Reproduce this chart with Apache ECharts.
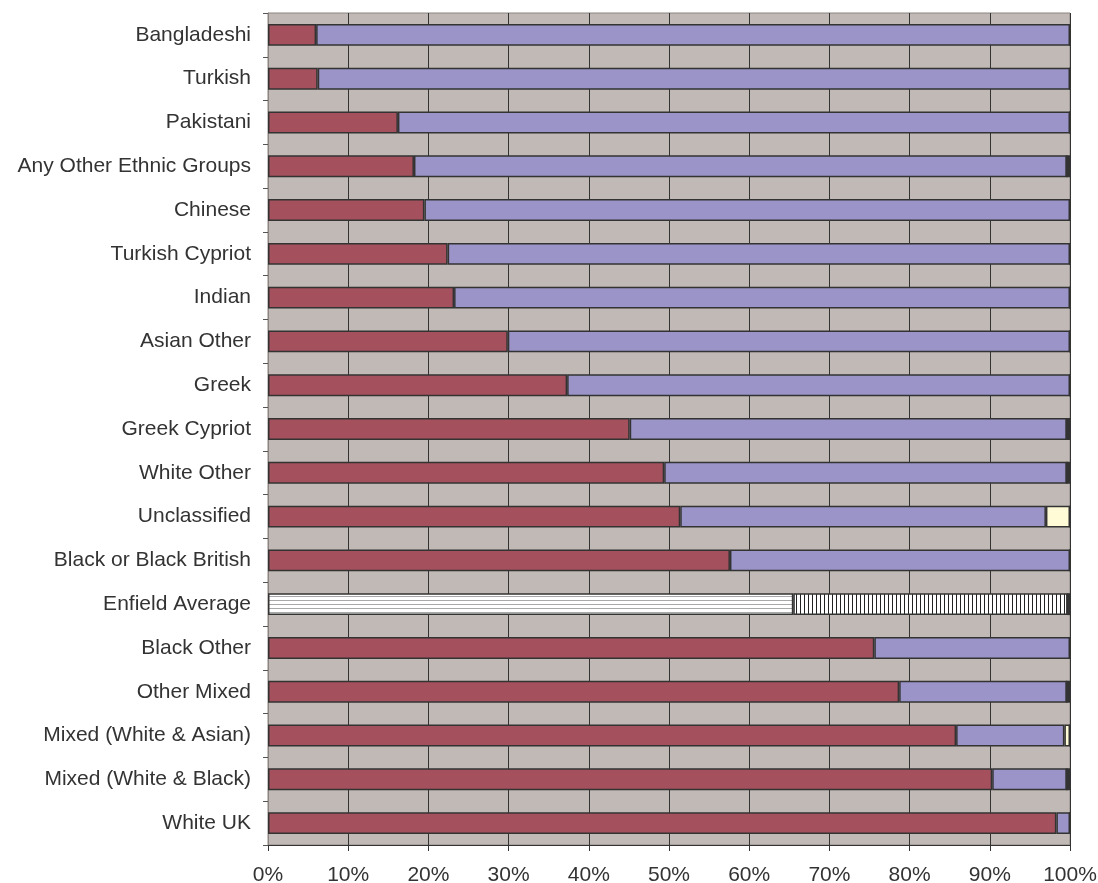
<!DOCTYPE html>
<html>
<head>
<meta charset="utf-8">
<script src="https://cdn.jsdelivr.net/npm/echarts@6/dist/echarts.min.js"></script>
<style>
  html, body { margin: 0; padding: 0; background: #fff; }
  #main { width: 1098px; height: 883px; }
</style>
</head>
<body>
<div id="main"></div>
<script>
// categories, top to bottom
var categories = ['Bangladeshi', 'Turkish', 'Pakistani', 'Any Other Ethnic Groups', 'Chinese',
  'Turkish Cypriot', 'Indian', 'Asian Other', 'Greek', 'Greek Cypriot', 'White Other',
  'Unclassified', 'Black or Black British', 'Enfield Average', 'Black Other', 'Other Mixed',
  'Mixed (White & Asian)', 'Mixed (White & Black)', 'White UK'];

// percentage shares (stacked to 100)
var share1 = [6.0, 6.2, 16.2, 18.2, 19.5, 22.4, 23.2, 29.9, 37.3, 45.1, 49.4, 51.4, 57.6, 65.5, 75.6, 78.7, 85.8, 90.3, 98.3];
var share2 = [94.0, 93.8, 83.8, 81.4, 80.5, 77.6, 76.8, 70.1, 62.7, 54.5, 50.2, 45.6, 42.4, 34.2, 24.4, 20.9, 13.5, 9.3, 1.7];
var share3 = [0, 0, 0, 0, 0, 0, 0, 0, 0, 0, 0, 3.0, 0, 0, 0, 0, 0.7, 0, 0];
var share4 = [0, 0, 0, 0.4, 0, 0, 0, 0, 0, 0.4, 0.4, 0, 0, 0.3, 0, 0.4, 0, 0.4, 0];

var tickLabels = ['0%', '10%', '20%', '30%', '40%', '50%', '60%', '70%', '80%', '90%', '100%'];

var avgName = 'Enfield Average';

// hatch patterns for the average bar
function hatch(horizontal) {
  var c = document.createElement('canvas');
  c.width = 4; c.height = 4;
  var ctx = c.getContext('2d');
  ctx.fillStyle = '#ffffff';
  ctx.fillRect(0, 0, 4, 4);
  if (horizontal) {
    ctx.fillStyle = '#a8a8a8';
    ctx.fillRect(0, 0, 4, 1);
  } else {
    ctx.fillStyle = '#222222';
    ctx.fillRect(0, 0, 1, 4);
  }
  return { image: c, repeat: 'repeat' };
}

function build(values, patt) {
  return values.map(function (v, i) {
    if (categories[i] === avgName && patt) {
      return { value: v, itemStyle: { color: patt } };
    }
    return v;
  });
}

var myChart = echarts.init(document.getElementById('main'));

var border = { borderColor: '#333333', borderWidth: 1.5 };
var font = 'Liberation Sans, Arial, sans-serif';

var option = {
  animation: false,
  grid: {
    left: 268, right: 28, top: 13, bottom: 38,
    outerBoundsMode: 'none',
    containLabel: false,
    show: true,
    backgroundColor: '#c0b9b5',
    borderColor: '#8c8480',
    borderWidth: 1
  },
  xAxis: {
    type: 'value',
    min: 0, max: 100, interval: 10,
    axisLine: { show: true, lineStyle: { color: '#333' } },
    axisTick: { show: true, length: 6, lineStyle: { color: '#333' } },
    splitLine: { show: true, lineStyle: { color: '#333', width: 1 } },
    axisLabel: {
      margin: 20,
      fontFamily: font,
      fontSize: 21,
      color: '#333',
      formatter: function (v) { return tickLabels[Math.round(v / 10)]; }
    }
  },
  yAxis: {
    type: 'category',
    inverse: true,
    data: categories,
    axisLine: { show: true, lineStyle: { color: '#8c8480' } },
    axisTick: { show: true, length: 5, lineStyle: { color: '#555' } },
    axisLabel: {
      margin: 17,
      fontFamily: font,
      fontSize: 21,
      color: '#333'
    }
  },
  series: [
    {
      name: 'Series 1', type: 'bar', stack: 'a', barCategoryGap: '50%',
      itemStyle: Object.assign({ color: '#a4505d' }, border),
      data: build(share1, hatch(true))
    },
    {
      name: 'Series 2', type: 'bar', stack: 'a',
      itemStyle: Object.assign({ color: '#9a94c8' }, border),
      data: build(share2, hatch(false))
    },
    {
      name: 'Series 3', type: 'bar', stack: 'a',
      itemStyle: Object.assign({ color: '#fffbd6' }, border),
      data: share3
    },
    {
      name: 'Series 4', type: 'bar', stack: 'a',
      itemStyle: Object.assign({ color: '#333333' }, border),
      data: share4
    }
  ]
};

option && myChart.setOption(option);
</script>
</body>
</html>
